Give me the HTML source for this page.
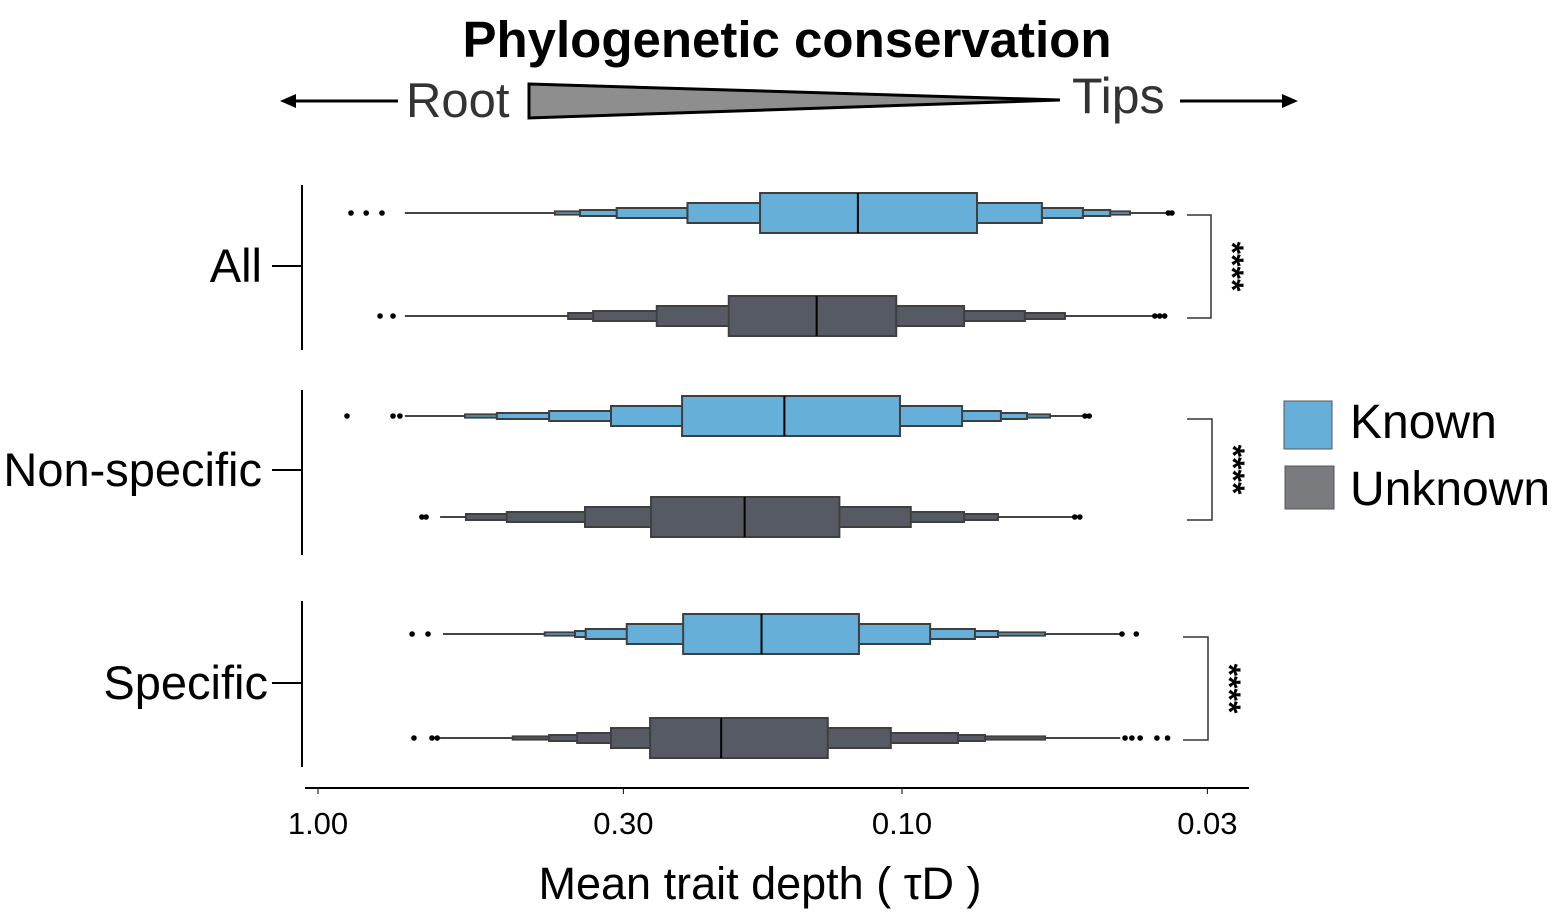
<!DOCTYPE html>
<html><head><meta charset="utf-8"><style>
body{margin:0;background:#fff;}
svg{display:block;font-family:"Liberation Sans",Arial,sans-serif;}
</style></head><body>
<svg id="chart" width="1563" height="913" viewBox="0 0 1563 913" xmlns="http://www.w3.org/2000/svg">
<text x="787" y="57" font-size="51" font-weight="bold" text-anchor="middle">Phylogenetic conservation</text>
<g>
<line x1="398" y1="101" x2="290" y2="101" stroke="#000" stroke-width="3"/>
<polygon points="280,101 296,94 296,108" fill="#000"/>
<text x="406" y="117" font-size="49" fill="#333">Root</text>
<polygon points="529,84 1060,100 529,118" fill="#8e8e8e" stroke="#000" stroke-width="3"/>
<text x="1072" y="113" font-size="50" fill="#333">Tips</text>
<line x1="1180" y1="101" x2="1288" y2="101" stroke="#000" stroke-width="3"/>
<polygon points="1298,101 1282,94 1282,108" fill="#000"/>
</g>
<g id="plot"></g>
<g>
<rect x="1284" y="401" width="48" height="48" fill="#66afd8" stroke="#555" stroke-width="1"/>
<text x="1350" y="438" font-size="48">Known</text>
<rect x="1285" y="466" width="49" height="43" fill="#7a7b7f" stroke="#555" stroke-width="1"/>
<text x="1350" y="505" font-size="48">Unknown</text>
</g>
</svg>
<script>
const groups = ["All","Non-specific","Specific"];
const ticks = [1.00,0.30,0.10,0.03];
const tickLabels = ["1.00","0.30","0.10","0.03"];
const allKnownLevels = [[0.175,0.0744],[0.233,0.0576],[0.308,0.049],[0.356,0.044],[0.393,0.0407]];
const allKnownMedian = 0.119;
const allKnownWhisker = [0.710,0.0348];
const allKnownOutliers = [0.878,0.827,0.777,0.0350,0.0345];
const allUnknownLevels = [[0.198,0.1023],[0.263,0.0783],[0.338,0.0616],[0.373,0.0526]];
const allUnknownMedian = 0.140;
const allUnknownWhisker = [0.710,0.0362];
const allUnknownOutliers = [0.783,0.744,0.0369,0.0362,0.0355];
const nsKnownLevels = [[0.238,0.1008],[0.315,0.0789],[0.402,0.0677],[0.494,0.0611],[0.560,0.0558]];
const nsKnownMedian = 0.159;
const nsKnownWhisker = [0.710,0.0486];
const nsKnownOutliers = [0.892,0.744,0.724,0.0486,0.0478];
const nsUnknownLevels = [[0.269,0.128],[0.349,0.0966],[0.475,0.0783],[0.558,0.0685]];
const nsUnknownMedian = 0.186;
const nsUnknownWhisker = [0.618,0.0506];
const nsUnknownOutliers = [0.664,0.653,0.0506,0.0496];
const spKnownLevels = [[0.237,0.1185],[0.296,0.0895],[0.348,0.0750],[0.363,0.0685],[0.409,0.0569]];
const spKnownMedian = 0.174;
const spKnownWhisker = [0.611,0.0420];
const spKnownOutliers = [0.690,0.648,0.0420,0.0397];
const spUnknownLevels = [[0.270,0.134],[0.315,0.1045],[0.360,0.0802],[0.402,0.0721],[0.464,0.0569]];
const spUnknownMedian = 0.204;
const spUnknownWhisker = [0.618,0.0423];
const spUnknownOutliers = [0.685,0.638,0.625,0.0415,0.0404,0.0391,0.0366,0.0351];

const NS="http://www.w3.org/2000/svg";
const plot=document.getElementById('plot');
function xs(v){return 318-Math.log10(v)*584;}
function mk(tag,attrs,parent){const e=document.createElementNS(NS,tag);for(const k in attrs)e.setAttribute(k,attrs[k]);(parent||plot).appendChild(e);return e;}
const halfH=[20,10,5,3,1.6];
const series=[
 {g:0,y:213,c:"#66afd8",L:allKnownLevels,m:allKnownMedian,w:allKnownWhisker,o:allKnownOutliers,n:"all-known"},
 {g:0,y:316,c:"#555a63",L:allUnknownLevels,m:allUnknownMedian,w:allUnknownWhisker,o:allUnknownOutliers,n:"all-unknown"},
 {g:1,y:416,c:"#66afd8",L:nsKnownLevels,m:nsKnownMedian,w:nsKnownWhisker,o:nsKnownOutliers,n:"nonspecific-known"},
 {g:1,y:517,c:"#555a63",L:nsUnknownLevels,m:nsUnknownMedian,w:nsUnknownWhisker,o:nsUnknownOutliers,n:"nonspecific-unknown"},
 {g:2,y:634,c:"#66afd8",L:spKnownLevels,m:spKnownMedian,w:spKnownWhisker,o:spKnownOutliers,n:"specific-known"},
 {g:2,y:738,c:"#555a63",L:spUnknownLevels,m:spUnknownMedian,w:spUnknownWhisker,o:spUnknownOutliers,n:"specific-unknown"}
];
series.forEach(s=>{
 const g=mk('g',{});
 
 
 const wl=mk('line',{x1:xs(s.w[0]),x2:xs(s.w[1]),y1:s.y,y2:s.y,stroke:"#444","stroke-width":2},g);
 
 
 for(let i=s.L.length-1;i>=0;i--){
  const a=xs(s.L[i][0]),b=xs(s.L[i][1]),h=halfH[i];
  const r=mk('rect',{x:a,y:s.y-h,width:b-a,height:2*h,fill:s.c,stroke:"#3f3f3f","stroke-width":2},g);
  
  
 }
 const md=mk('line',{x1:xs(s.m),x2:xs(s.m),y1:s.y-20,y2:s.y+20,stroke:"#000","stroke-width":2},g);
 
 
 s.o.forEach(v=>{
  const c=mk('circle',{cx:xs(v),cy:s.y,r:2.8,fill:"#000"},g);
  
  
 });
});
const segs=[[185,350,266],[390,555,470],[601,767,683]];
groups.forEach((gname,i)=>{
 const l=mk('line',{x1:302,x2:302,y1:segs[i][0],y2:segs[i][1],stroke:"#000","stroke-width":2});
 
 
 const t=mk('line',{x1:272,x2:302,y1:segs[i][2],y2:segs[i][2],stroke:"#000","stroke-width":2});
 
 
 const tx=mk('text',{x:i==2?268:262,y:segs[i][2]+16,"font-size":47,"text-anchor":"end"});
 tx.textContent=gname;
 
 
});
const xa=mk('line',{x1:305,x2:1249,y1:788,y2:788,stroke:"#000","stroke-width":2});


ticks.forEach((v,i)=>{
 const t=mk('line',{x1:xs(v),x2:xs(v),y1:788,y2:794,stroke:"#000","stroke-width":1});
 
 
 const tx=mk('text',{x:xs(v),y:834,"font-size":31,"text-anchor":"middle"});
 tx.textContent=tickLabels[i];
 
 
});
const xt=mk('text',{x:760,y:899,"font-size":45,"text-anchor":"middle"});
xt.textContent="Mean trait depth ( τD )";


const br=[[1187,1211,215,318],[1187,1212,419,520],[1183,1208,637,740]];
br.forEach(b=>{
 const p=mk('path',{d:`M${b[0]},${b[2]}H${b[1]}V${b[3]}H${b[0]}`,fill:"none",stroke:"#333","stroke-width":1.5});
 
 
 const cy=(b[2]+b[3])/2, cx=b[1]+10;
 const s=mk('text',{x:cx,y:cy,"font-size":32,"font-weight":"bold","text-anchor":"middle",transform:`rotate(90 ${cx} ${cy})`});
 s.textContent="****";
 
 
});
</script>
</body></html>
